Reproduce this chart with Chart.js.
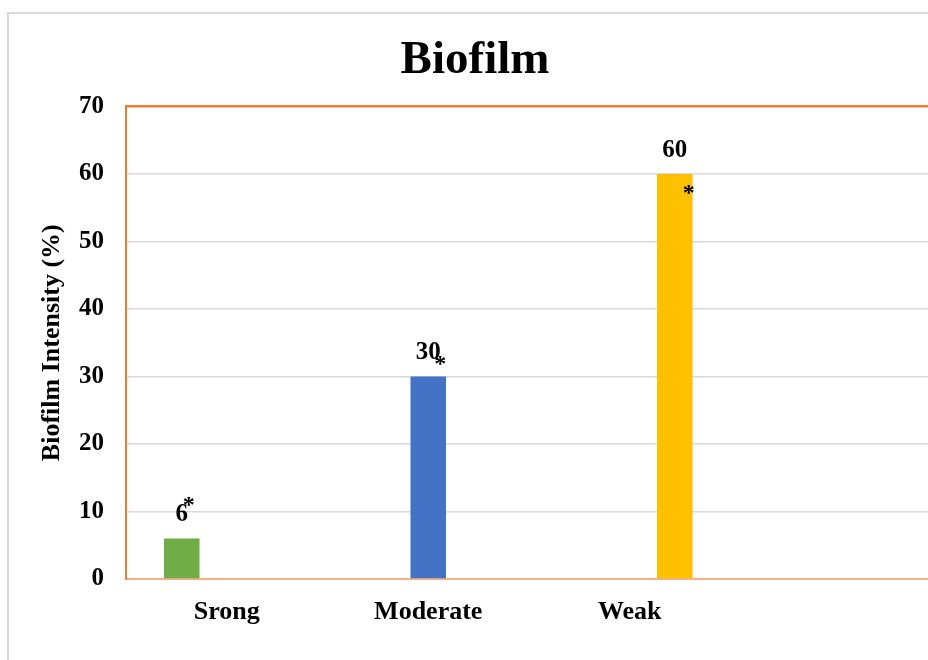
<!DOCTYPE html>
<html>
<head>
<meta charset="utf-8">
<title>Biofilm</title>
<script src="https://cdn.jsdelivr.net/npm/chart.js@4"></script>
<style>
    html, body { margin: 0; padding: 0; background: #fff; overflow: hidden; }
    body { width: 928px; height: 660px; position: relative; }
    .frame {
        position: absolute; left: 7px; top: 12px;
        width: 1000px; height: 700px;
        border: 2px solid #d9d9d9;
    }
    canvas { position: absolute; left: 0; top: 0; }
</style>
</head>
<body>
<div class="frame"></div>
<canvas id="chart" width="960" height="660"></canvas>
<script>
// categories (the 4th slot is empty, as in the original sheet)
const categories = ['Srong', 'Moderate', 'Weak', '']

// one series per class, only its own category is filled
const strongValues   = [6, null, null, null]
const moderateValues = [null, 30, null, null]
const weakValues     = [null, null, 60, null]

const yTicks = [0, 10, 20, 30, 40, 50, 60, 70]

const serif = '"Liberation Serif", "Times New Roman", serif'

// value labels + the little asterisks next to them
const valueLabels = {
    id: 'valueLabels',
    afterDatasetsDraw(chart) {
        const ctx = chart.ctx
        // asterisk offset from the bar top, per dataset
        const star = [[7, -38], [12, -17], [14, 15]]
        ctx.save()
        ctx.fillStyle = '#000'
        ctx.textAlign = 'center'
        chart.data.datasets.forEach((ds, i) => {
            chart.getDatasetMeta(i).data.forEach((bar, j) => {
                const v = ds.data[j]
                if (v === null) return
                ctx.font = 'bold 25px ' + serif
                ctx.textBaseline = 'alphabetic'
                ctx.fillText(String(v), bar.x, bar.y - 17)
                ctx.font = 'bold 24px ' + serif
                ctx.textBaseline = 'middle'
                ctx.fillText('*', bar.x + star[i][0], bar.y + star[i][1] + 5)
            })
        })
        ctx.restore()
    }
}

new Chart(document.getElementById('chart'), {
    type: 'bar',
    data: {
        labels: categories,
        datasets: [
            { label: 'Srong', data: strongValues, backgroundColor: '#70ad47' },
            { label: 'Moderate', data: moderateValues, backgroundColor: '#4472c4' },
            { label: 'Weak', data: weakValues, backgroundColor: '#ffc000' }
        ]
    },
    options: {
        responsive: false,
        animation: false,
        categoryPercentage: 0.67,
        barPercentage: 0.79,
        layout: { padding: { left: 18, right: 28, top: 0, bottom: 0 } },
        plugins: {
            legend: { display: false },
            tooltip: { enabled: false },
            title: {
                display: true,
                text: 'Biofilm',
                color: '#000',
                font: { family: serif, size: 47, weight: 'bold' },
                padding: { top: 33, bottom: 17 }
            }
        },
        scales: {
            x: {
                grid: { display: false, drawTicks: false },
                border: { color: '#f4b183', width: 2 },
                ticks: {
                    color: '#000',
                    padding: 18,
                    font: { family: serif, size: 26, weight: 'bold' }
                },
                afterFit(scale) { scale.height = 81 }
            },
            y: {
                min: 0,
                max: 70,
                afterBuildTicks(scale) { scale.ticks = yTicks.map(v => ({ value: v })) },
                grid: {
                    drawTicks: false,
                    color: c => c.tick && c.tick.value === 70 ? '#ed7d31' : '#d9d9d9',
                    lineWidth: c => c.tick && c.tick.value === 70 ? 2.5 : 1.5
                },
                border: { color: '#ed7d31', width: 2 },
                ticks: {
                    color: '#000',
                    padding: 22,
                    font: { family: serif, size: 25, weight: 'bold' }
                },
                title: {
                    display: true,
                    text: 'Biofilm Intensity (%)',
                    color: '#000',
                    padding: { top: 19, bottom: 0 },
                    font: { family: serif, size: 26, weight: 'bold' }
                },
                afterFit(scale) { scale.width = 108 }
            }
        }
    },
    plugins: [valueLabels]
})
</script>
</body>
</html>
